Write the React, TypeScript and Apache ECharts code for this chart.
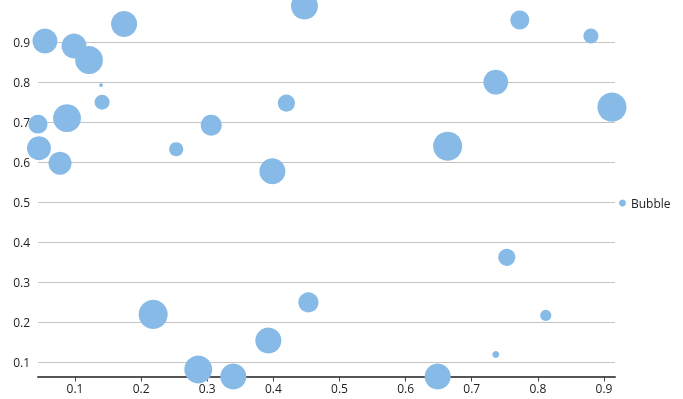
import React, { useEffect, useRef } from "react";
import * as echarts from "echarts";

// Bubble data: x, y, relative size
const xValues = [
  0.0545, 0.0985, 0.1212, 0.1742, 0.1394, 0.1409, 0.044, 0.0879, 0.0455, 0.0773,
  0.253, 0.306, 0.447, 0.4197, 0.3985, 0.6636, 0.7727, 0.8803, 0.7364, 0.9121,
  0.2182, 0.2864, 0.3394, 0.453, 0.3924, 0.6485, 0.753, 0.812, 0.7364,
];
const yValues = [
  0.9025, 0.89, 0.855, 0.945, 0.7925, 0.75, 0.695, 0.71, 0.635, 0.5975,
  0.6325, 0.6925, 0.99, 0.7475, 0.5775, 0.64, 0.955, 0.915, 0.8, 0.7375,
  0.22, 0.0825, 0.065, 0.25, 0.155, 0.065, 0.3625, 0.2175, 0.12,
];
const sizeValues = [
  0.83, 0.83, 0.93, 0.87, 0.13, 0.5, 0.63, 0.93, 0.8, 0.77,
  0.47, 0.7, 0.9, 0.57, 0.87, 0.97, 0.63, 0.5, 0.83, 0.97,
  0.97, 0.93, 0.87, 0.67, 0.87, 0.87, 0.57, 0.37, 0.23,
];
const seriesName = "Bubble";

const FONT = "'Open Sans', 'Noto Sans', sans-serif";
const BUBBLE = "#87bae6";

export default function App() {
  const ref = useRef<HTMLDivElement>(null);
  useEffect(() => {
    if (!ref.current) return;
    const chart = echarts.init(ref.current, null, { renderer: "svg" });
    const data = xValues.map((x, i) => [x, yValues[i], sizeValues[i]]);
    chart.setOption({
      animation: false,
      textStyle: { fontFamily: FONT },
      grid: { left: 38, right: 68, top: 6, bottom: 22.5 },
      legend: {
        orient: "vertical",
        left: 614,
        top: 192,
        icon: "circle",
        itemWidth: 7,
        itemHeight: 7,
        itemGap: 5,
        textStyle: { fontSize: 12, color: "#222", fontFamily: FONT },
        data: [seriesName],
      },
      xAxis: {
        type: "value",
        min: 0.044,
        max: 0.9167,
        splitNumber: 9,
        minInterval: 0.1,
        maxInterval: 0.1,
        splitLine: { show: false },
        axisLine: { show: true, lineStyle: { color: "#555", width: 2 } },
        axisTick: {
          show: true,
          inside: false,
          length: 5,
          lineStyle: { color: "#444", width: 1 },
        },
        axisLabel: {
          showMinLabel: false,
          showMaxLabel: false,
          margin: 6,
          fontSize: 12,
          color: "#222",
          fontFamily: FONT,
        },
      },
      yAxis: {
        type: "value",
        min: 0.065,
        max: 0.99,
        splitNumber: 9,
        minInterval: 0.1,
        maxInterval: 0.1,
        axisLine: { show: false },
        axisTick: { show: false },
        splitLine: {
          show: true,
          showMinLine: false,
          showMaxLine: false,
          lineStyle: { color: "#c4c4c4", width: 1 },
        },
        axisLabel: {
          showMinLabel: false,
          showMaxLabel: false,
          margin: 8,
          fontSize: 12,
          color: "#222",
          fontFamily: FONT,
        },
      },
      series: [
        {
          name: seriesName,
          type: "scatter",
          clip: false,
          symbol: "circle",
          symbolSize: (v: number[]) => v[2] * 30,
          itemStyle: { color: BUBBLE, opacity: 1 },
          data,
        },
      ],
    });
    return () => chart.dispose();
  }, []);
  return (
    <div
      ref={ref}
      style={{ position: "fixed", left: 0, top: 0, width: 683, height: 399 }}
    />
  );
}
